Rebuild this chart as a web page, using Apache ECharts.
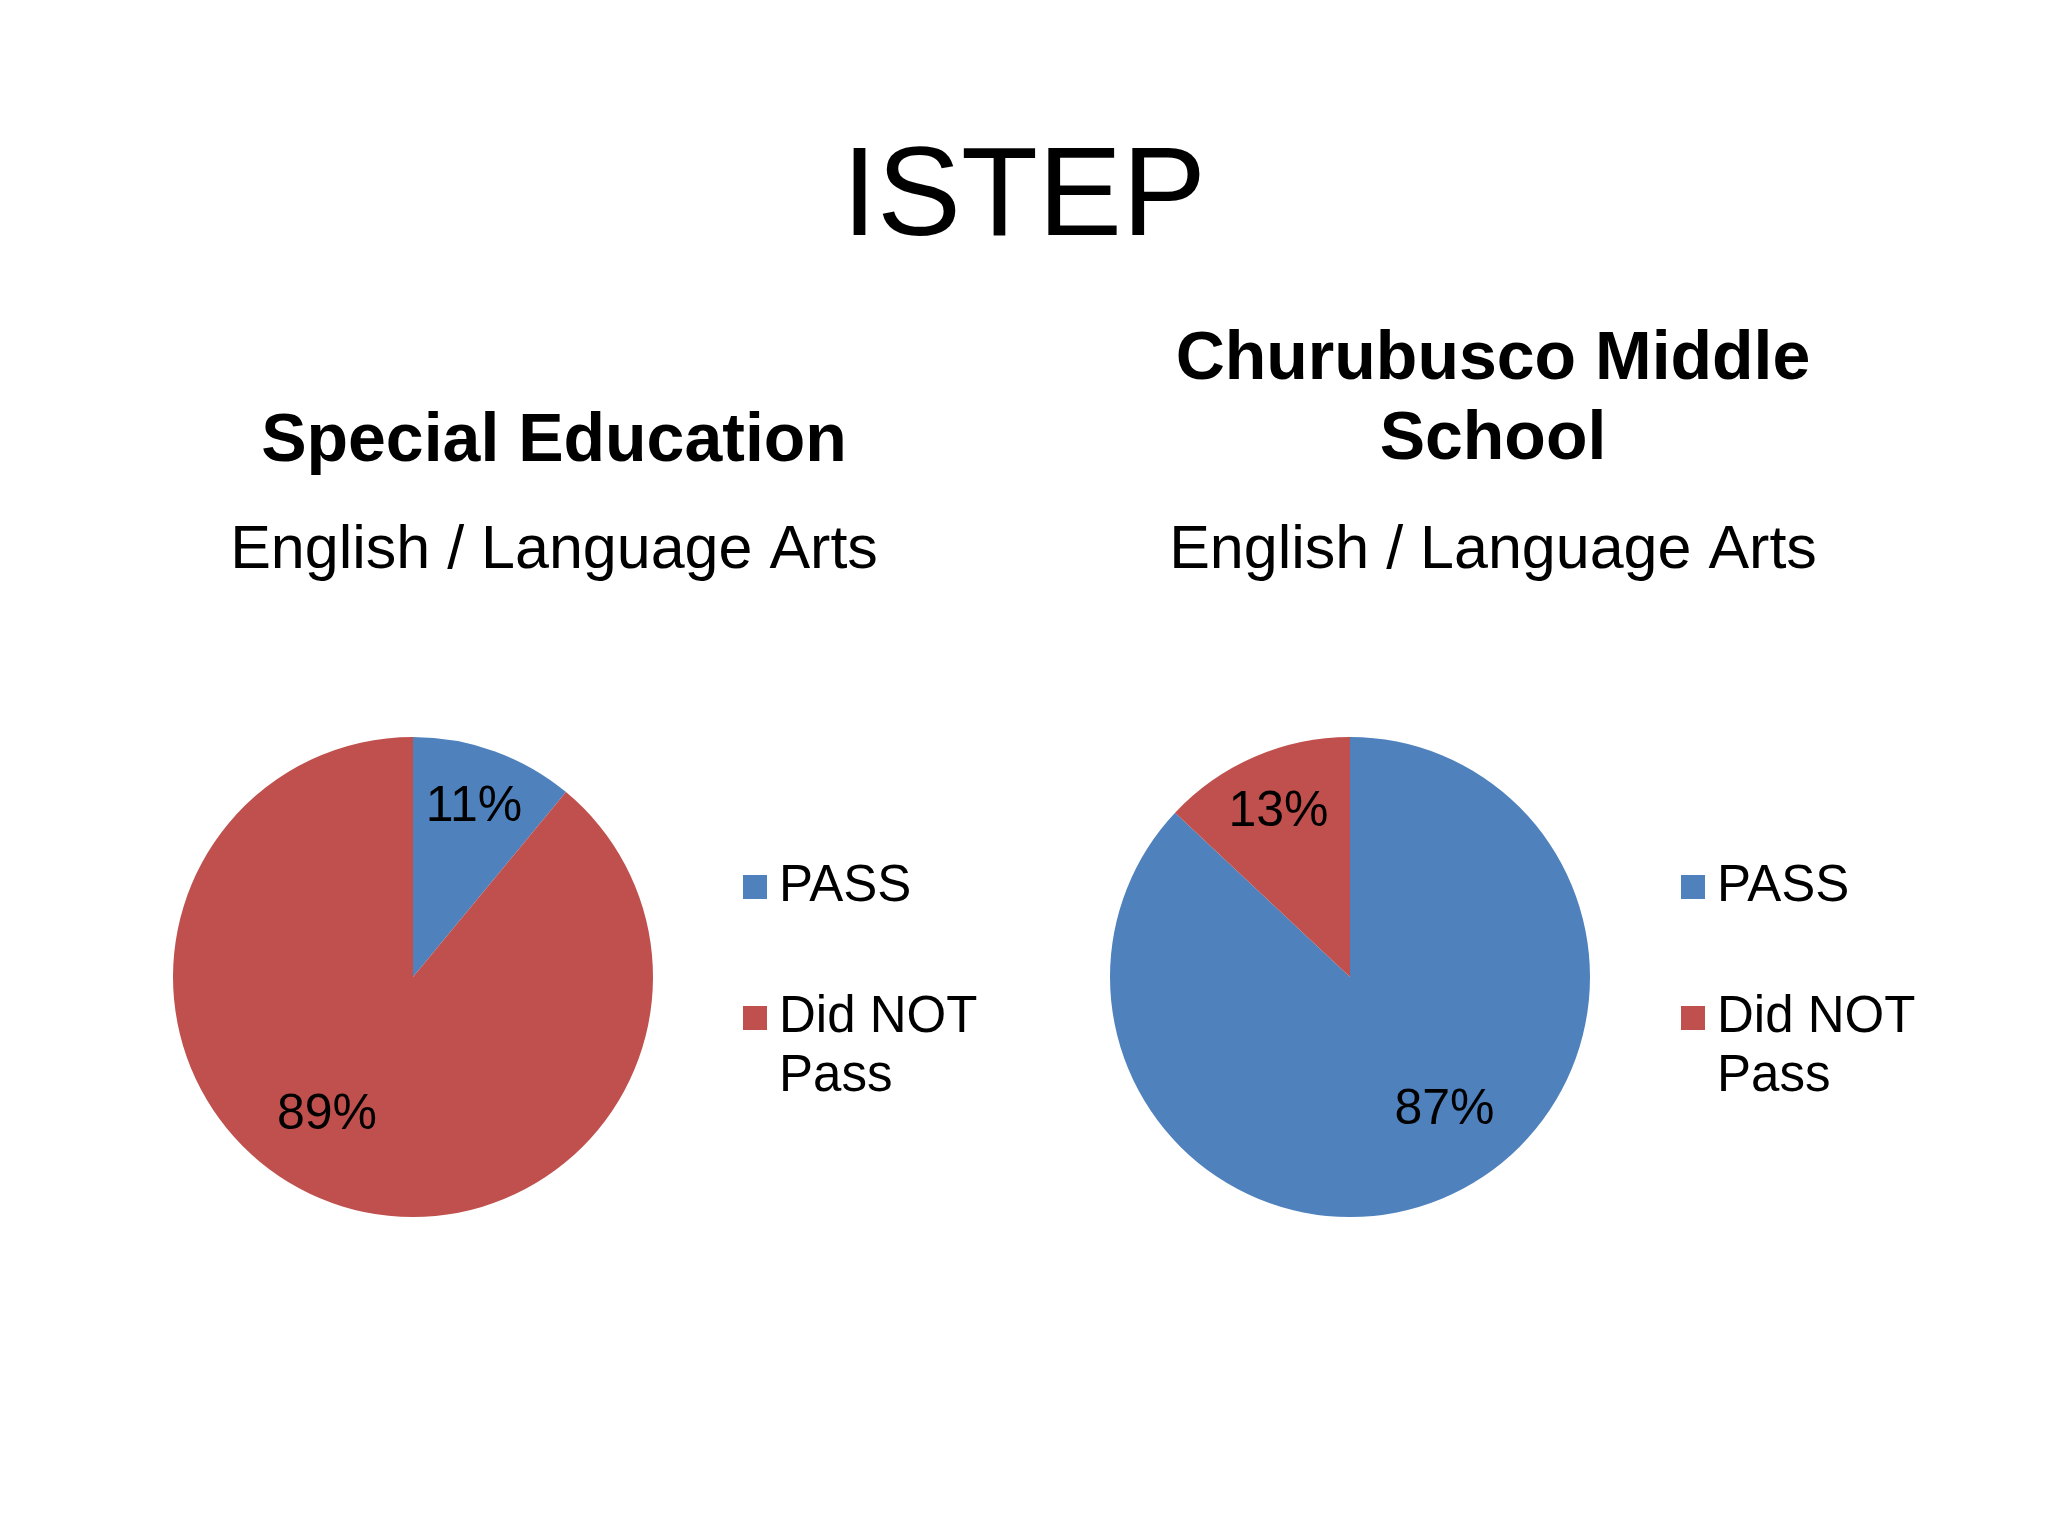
<!DOCTYPE html>
<html>
<head>
<meta charset="utf-8">
<script src="https://cdn.jsdelivr.net/npm/echarts@6/dist/echarts.min.js"></script>
<style>
  html, body { margin: 0; padding: 0; background: #ffffff; }
  #chart { width: 2048px; height: 1536px; }
</style>
</head>
<body>
<div id="chart"></div>
<script>
// data
const categories = ['PASS', 'Did NOT Pass']
const specialEdValues = [11, 89]
const schoolValues = [87, 13]
const sliceColors = ['#4F81BD', '#C0504D']

const font = '"Liberation Sans", Arial, sans-serif'
const pieRadius = 240
const leftCenter = [413, 977]
const rightCenter = [1350, 977]
const legendLineHeight = 59

var myChart = echarts.init(document.getElementById('chart'))

function buildData(values) {
  return values.map((v, i) => ({
    name: categories[i],
    value: v,
    itemStyle: { color: sliceColors[i] }
  }))
}

// excel "best fit" style: small slice label out on the bisector,
// big slice label pulled a bit away from straight down
function labelLayoutFor(values, center) {
  const total = values.reduce((a, b) => a + b, 0)
  return (params) => {
    const idx = params.dataIndex
    var before = 0
    for (let i = 0; i < idx; i++) before += values[i]
    var mid = (before + values[idx] / 2) / total * 360
    var frac = 0.75
    if (values[idx] / total > 0.5) {
      frac = 0.68
      mid += mid > 180 ? 12 : -12
    }
    const rad = mid * Math.PI / 180
    return {
      x: center[0] + pieRadius * frac * Math.sin(rad),
      y: center[1] - pieRadius * frac * Math.cos(rad),
      align: 'center',
      verticalAlign: 'middle'
    }
  }
}

function pieSeries(values, center) {
  return {
    type: 'pie',
    center: center,
    radius: pieRadius,
    startAngle: 90,
    clockwise: true,
    silent: true,
    data: buildData(values),
    label: {
      show: true,
      position: 'inside',
      formatter: '{c}%',
      color: '#000',
      fontFamily: font,
      fontSize: 50
    },
    labelLine: { show: false },
    emphasis: { disabled: true },
    labelLayout: labelLayoutFor(values, center)
  }
}

// one legend per entry so each can sit where the slide has it.
// the long name wraps; an empty first line keeps the square level with "Did NOT"
function legendItem(name, left, iconY) {
  const words = name.split(' ')
  const twoLine = words.length > 1
  var pos = { left: left }
  if (twoLine) {
    pos.bottom = 1536 - iconY - 1.5 * legendLineHeight
  } else {
    pos.top = iconY - legendLineHeight / 2
  }
  return Object.assign(pos, {
    padding: 0,
    orient: 'vertical',
    icon: 'rect',
    itemWidth: 24,
    itemHeight: 24,
    selectedMode: false,
    data: [name],
    formatter: (n) => twoLine ? '\n' + words.slice(0, -1).join(' ') + '\n' + words[words.length - 1] : n,
    textStyle: {
      color: '#000',
      fontFamily: font,
      fontSize: 51,
      lineHeight: legendLineHeight,
      padding: [0, 0, 0, 7]
    }
  })
}

function titleText(text, x, y, size, weight, lineHeight) {
  return {
    text: text,
    left: x,
    top: y,
    padding: 0,
    textAlign: 'center',
    textVerticalAlign: 'middle',
    textStyle: {
      color: '#000',
      fontFamily: font,
      fontSize: size,
      fontWeight: weight,
      lineHeight: lineHeight || size
    }
  }
}

const option = {
  backgroundColor: '#ffffff',
  animation: false,
  title: [
    titleText('ISTEP', 1024, 200, 126, 'normal'),
    titleText('Special Education', 554, 442, 68, 'bold'),
    titleText('English / Language Arts', 554, 551, 61, 'normal'),
    titleText('Churubusco Middle\nSchool', 1493, 400, 68, 'bold', 80),
    titleText('English / Language Arts', 1493, 551, 61, 'normal')
  ],
  legend: [
    legendItem(categories[0], 743, 887),
    legendItem(categories[1], 743, 1018),
    legendItem(categories[0], 1681, 887),
    legendItem(categories[1], 1681, 1018)
  ],
  series: [
    pieSeries(specialEdValues, leftCenter),
    pieSeries(schoolValues, rightCenter)
  ]
}

myChart.setOption(option)
</script>
</body>
</html>
